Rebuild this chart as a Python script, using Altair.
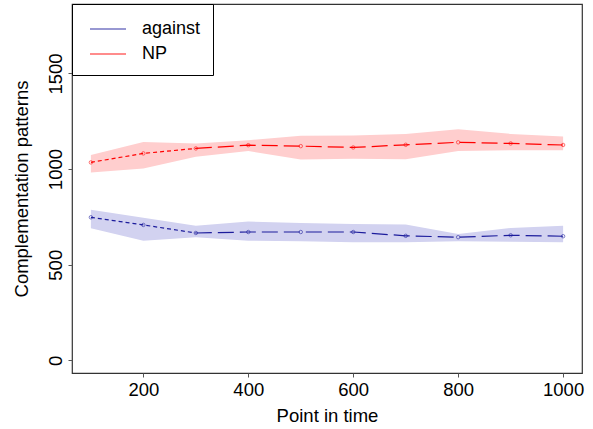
import altair as alt
import pandas as pd

# Time points and the two series (mean with lower/upper band)
time_points = [100, 200, 300, 400, 500, 600, 700, 800, 900, 1000]

against_mean = [748, 708, 666, 671, 671, 671, 651, 644, 654, 649]
against_low = [691, 625, 644, 625, 623, 617, 617, 623, 620, 617]
against_high = [788, 745, 704, 726, 718, 713, 710, 660, 692, 704]

np_mean = [1035, 1082, 1108, 1125, 1120, 1113, 1127, 1140, 1134, 1126]
np_low = [982, 1003, 1064, 1094, 1050, 1054, 1051, 1095, 1099, 1099]
np_high = [1073, 1142, 1134, 1151, 1174, 1175, 1184, 1208, 1184, 1170]

groups = ["against", "NP"]
line_colors = ["#1c1c9c", "#ff0000"]
band_colors = {"against": "#d2d2f0", "NP": "#ffcece"}

x_ticks = [200, 400, 600, 800, 1000]
y_ticks = [0, 500, 1000, 1500]

rows = []
for g, m, lo, hi in [("against", against_mean, against_low, against_high),
                     ("NP", np_mean, np_low, np_high)]:
    for t, mv, lv, hv in zip(time_points, m, lo, hi):
        rows.append({"time": t, "group": g, "mean": mv, "low": lv, "high": hv})
df = pd.DataFrame(rows)

FONT = "Liberation Sans"
y_scale = alt.Scale(domain=[-66, 1863], nice=False, zero=False)

x_enc = alt.X(
    "time:Q",
    scale=alt.Scale(domain=[64, 1036], nice=False, zero=False),
    axis=alt.Axis(values=x_ticks, format="d", title="Point in time"),
)
y_enc = alt.Y(
    "mean:Q",
    scale=y_scale,
    axis=alt.Axis(values=y_ticks, format="d", title="Complementation patterns",
                  labelAngle=270, labelAlign="center", labelBaseline="bottom"),
)

base = alt.Chart(df)

# shaded bands, one per group
bands = [
    base.transform_filter(alt.datum.group == g).mark_area(
        opacity=1, color=band_colors[g]
    ).encode(x=x_enc, y=alt.Y("low:Q", scale=y_scale), y2="high:Q")
    for g in groups
]

color_enc = alt.Color(
    "group:N",
    scale=alt.Scale(domain=groups, range=line_colors),
    legend=alt.Legend(title=None),
)

line_early = base.transform_filter(alt.datum.time <= 300).mark_line(
    strokeWidth=1.2, strokeDash=[4, 3]
).encode(x=x_enc, y=y_enc, color=color_enc, detail="group:N")

line_late = base.transform_filter(alt.datum.time >= 300).mark_line(
    strokeWidth=1.2, strokeDash=[16, 6]
).encode(x=x_enc, y=y_enc, color=color_enc, detail="group:N")

points = base.mark_point(filled=False, size=12, strokeWidth=0.8, shape="circle").encode(
    x=x_enc, y=y_enc, color=color_enc,
)

chart = alt.layer(*bands, line_early, line_late, points).properties(
    width=510,
    height=369,
    autosize=alt.AutoSizeParams(type="none"),
    padding={"left": 72, "top": 4, "right": 11, "bottom": 56},
).configure_view(
    stroke="#333333", strokeWidth=1.2
).configure_axis(
    grid=False,
    domain=False,
    ticks=True,
    tickSize=4,
    tickColor="#555555",
    labelFont=FONT,
    labelFontSize=18.5,
    labelColor="#000000",
    labelPadding=3,
    titleFont=FONT,
    titleFontSize=18.5,
    titleFontWeight="normal",
    titleColor="#000000",
).configure_axisX(
    titlePadding=8
).configure_axisY(
    titlePadding=15
).configure_legend(
    orient="none",
    legendX=0,
    legendY=0,
    padding=12,
    strokeColor="#000000",
    fillColor="#ffffff",
    cornerRadius=0,
    symbolType="M-1.5,0L1.5,0",
    symbolSize=576,
    symbolStrokeWidth=1.3,
    symbolOpacity=0.6,
    symbolOffset=11,
    labelOffset=21,
    rowPadding=3,
    labelFont=FONT,
    labelFontSize=18,
    labelColor="#000000",
)

chart.save("out.html", embed_options={"renderer": "svg", "actions": False})
